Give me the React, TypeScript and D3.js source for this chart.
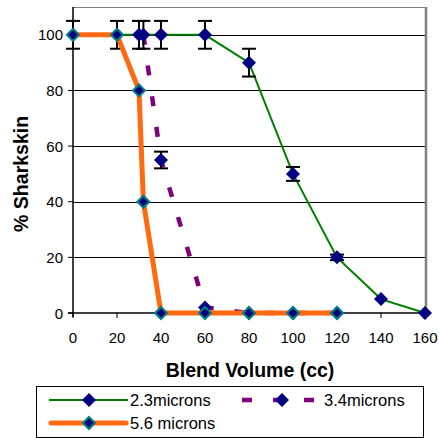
import React from 'react';
import { scaleLinear, line } from 'd3';

// 2.3 microns (green, error bars)
const s23X = [0, 20, 30, 40, 60, 80, 100, 120, 140, 160];
const s23Y = [100, 100, 100, 100, 100, 90, 50, 20, 5, 0];
const s23Err = [5, 5, 5, 5, 5, 5, 2.5, 1, 0, 0];
// 3.4 microns (purple dashed)
const s34X = [32, 40, 60, 80, 100, 120];
const s34Y = [100, 55, 2, 0, 0, 0];
const s34Err = [5, 3, 0, 0, 0, 0];
// 5.6 microns (orange)
const s56X = [0, 20, 30, 32, 40, 60, 80, 100, 120];
const s56Y = [100, 100, 80, 40, 0, 0, 0, 0, 0];

const xTicks = [0, 20, 40, 60, 80, 100, 120, 140, 160];
const yTicks = [0, 20, 40, 60, 80, 100];

const W = 439, H = 438;
const L = 73, R = 425, T = 7, B = 313;
const NAVY = '#000080';
const ORANGE = '#FF6A10';
const FONT = 'Liberation Sans, Arial, sans-serif';

const diamond = (cx: number, cy: number, r: number) =>
  `M${cx},${cy - r}L${cx + r},${cy}L${cx},${cy + r}L${cx - r},${cy}Z`;

export default function App() {
  const x = scaleLinear().domain([0, 160]).range([L, R]);
  const y = scaleLinear().domain([0, 110]).range([B, T]);
  const path = line<[number, number]>().x(d => x(d[0])).y(d => y(d[1]));
  const pts = (xs: number[], ys: number[]) => xs.map((v, i) => [v, ys[i]] as [number, number]);

  const errBars = (xs: number[], ys: number[], es: number[]) =>
    xs.map((v, i) => es[i] > 0 ? (
      <g key={i} stroke="#000" strokeWidth={2}>
        <line x1={x(v)} x2={x(v)} y1={y(ys[i] + es[i])} y2={y(ys[i] - es[i])} />
        <line x1={x(v) - 7} x2={x(v) + 7} y1={y(ys[i] + es[i])} y2={y(ys[i] + es[i])} />
        <line x1={x(v) - 7} x2={x(v) + 7} y1={y(ys[i] - es[i])} y2={y(ys[i] - es[i])} />
      </g>
    ) : null);

  const navyMarks = (xs: number[], ys: number[]) =>
    xs.map((v, i) => <path key={i} d={diamond(x(v), y(ys[i]), 7)} fill={NAVY} />);
  const tealMarks = (xs: number[], ys: number[]) =>
    xs.map((v, i) => <path key={i} d={diamond(x(v), y(ys[i]), 6)} fill={NAVY} stroke="#008080" strokeWidth={2} />);

  return (
    <div style={{ position: 'absolute', left: 0, top: 0 }}>
      <svg width={W} height={H} style={{ display: 'block' }}>
        <rect width={W} height={H} fill="#fff" />
        {/* grid */}
        {yTicks.filter(t => t > 0).map(t => (
          <line key={t} x1={L} x2={R} y1={Math.round(y(t)) + 0.5} y2={Math.round(y(t)) + 0.5} stroke="#000" strokeWidth={1} />
        ))}
        <line x1={L} x2={R} y1={T + 0.5} y2={T + 0.5} stroke="#808080" strokeWidth={1} />
        <line x1={R + 1} x2={R + 1} y1={T} y2={B} stroke="#808080" strokeWidth={2.5} />
        {/* axes */}
        <line x1={L} x2={L} y1={T} y2={B + 4} stroke="#000" strokeWidth={1.5} />
        <line x1={L - 5} x2={R} y1={B} y2={B} stroke="#000" strokeWidth={1.5} />
        {yTicks.map(t => (
          <g key={t}>
            <line x1={L - 5} x2={L} y1={y(t)} y2={y(t)} stroke="#000" strokeWidth={1} />
            <text x={L - 10} y={y(t) + 5.5} textAnchor="end" fontSize={15} fontFamily={FONT}>{t}</text>
          </g>
        ))}
        {xTicks.map(t => (
          <g key={t}>
            <line x1={x(t)} x2={x(t)} y1={B} y2={B + 5} stroke="#000" strokeWidth={1} />
            <text x={x(t)} y={B + 30} textAnchor="middle" fontSize={15} fontFamily={FONT}>{t}</text>
          </g>
        ))}
        <text x={250} y={377} textAnchor="middle" fontSize={19.5} fontWeight="bold" fontFamily={FONT}>Blend Volume (cc)</text>
        <text transform={`translate(28,${(y(0) + y(100)) / 2}) rotate(-90)`} textAnchor="middle" fontSize={19.5} fontWeight="bold" fontFamily={FONT}>% Sharkskin</text>

        {/* 2.3 microns */}
        <path d={path(pts(s23X, s23Y)) || ''} fill="none" stroke="#008000" strokeWidth={2} />
        {errBars(s23X, s23Y, s23Err)}
        {navyMarks(s23X, s23Y)}
        {/* 3.4 microns */}
        <path d={path(pts(s34X, s34Y)) || ''} fill="none" stroke="#800080" strokeWidth={4.5} strokeDasharray="10,21" />
        {errBars(s34X, s34Y, s34Err)}
        {navyMarks(s34X, s34Y)}
        {/* 5.6 microns */}
        <path d={path(pts(s56X, s56Y)) || ''} fill="none" stroke={ORANGE} strokeWidth={5} strokeLinejoin="round" />
        {tealMarks(s56X, s56Y)}

        {/* legend */}
        <rect x={36.5} y={386.5} width={387} height={51} fill="#fff" stroke="#000" strokeWidth={1} />
        <line x1={49} x2={128} y1={400} y2={400} stroke="#008000" strokeWidth={2} />
        <path d={diamond(89, 400, 7)} fill={NAVY} />
        <text x={130} y={406} fontSize={16.5} fontFamily={FONT}>2.3microns</text>
        <line x1={242} x2={314} y1={400} y2={400} stroke="#800080" strokeWidth={4.5} strokeDasharray="10,21" />
        <path d={diamond(282, 400, 7)} fill={NAVY} />
        <text x={324} y={406} fontSize={16.5} fontFamily={FONT}>3.4microns</text>
        <line x1={51} x2={126} y1={423} y2={423} stroke={ORANGE} strokeWidth={5} strokeLinecap="round" />
        <path d={diamond(89, 423, 6)} fill={NAVY} stroke="#008080" strokeWidth={2} />
        <text x={130} y={429} fontSize={16.5} fontFamily={FONT}>5.6 microns</text>
      </svg>
    </div>
  );
}
